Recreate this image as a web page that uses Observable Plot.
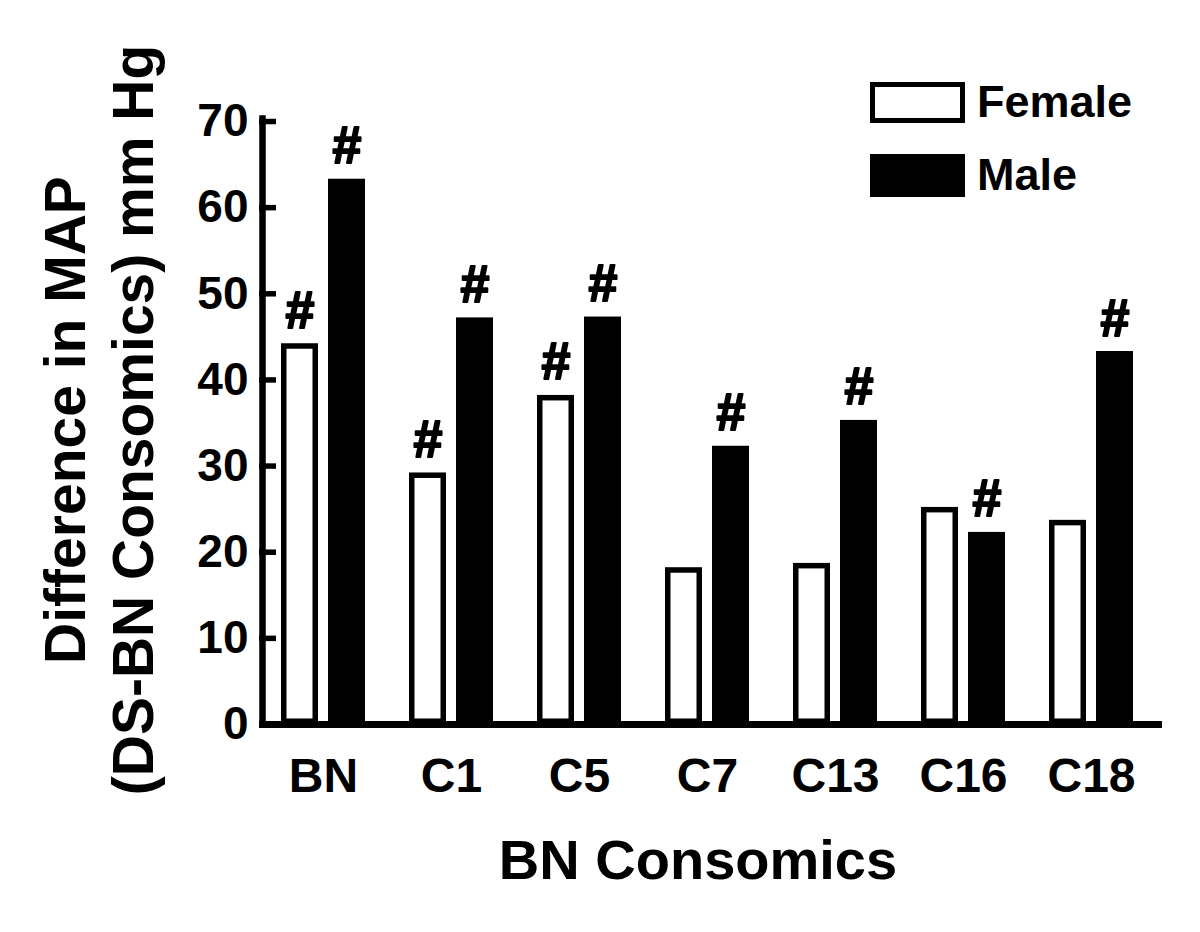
<!DOCTYPE html>
<html>
<head>
<meta charset="utf-8">
<script src="https://cdn.jsdelivr.net/npm/d3@7"></script>
<script src="https://cdn.jsdelivr.net/npm/@observablehq/plot@0.6"></script>
<style>
  html, body { margin: 0; padding: 0; background: #fff; }
  #chart { position: relative; width: 1200px; height: 932px; }
  svg text { font-family: "Liberation Sans", Arial, Helvetica, sans-serif; font-weight: bold; }
</style>
</head>
<body>
<div id="chart"></div>
<script>
// ---- data ----
const groups = ["BN", "C1", "C5", "C7", "C13", "C16", "C18"];
const sexes = ["Female", "Male"];
const femaleValues = [44.2, 29.2, 38.2, 18.2, 18.7, 25.2, 23.7];
const maleValues = [63.3, 47.2, 47.3, 32.3, 35.3, 22.3, 43.3];
const femaleSignificant = [true, true, true, false, false, false, false];
const maleSignificant = [true, true, true, true, true, true, true];
const yTicks = [0, 10, 20, 30, 40, 50, 60, 70];
const yTitleLines = ["Difference in MAP", "(DS-BN Consomics) mm Hg"];
const xTitle = "BN Consomics";
const marker = "#";

// table built from the arrays
const rows = [];
groups.forEach((g, i) => {
  rows.push({group: g, sex: "Female", value: femaleValues[i], sig: femaleSignificant[i]});
  rows.push({group: g, sex: "Male", value: maleValues[i], sig: maleSignificant[i]});
});
const femaleRows = rows.filter(d => d.sex === "Female");
const maleRows = rows.filter(d => d.sex === "Male");
const sigRows = rows.filter(d => d.sig);

const FONT = '"Liberation Sans", Arial, Helvetica, sans-serif';

const plot = Plot.plot({
  width: 1200,
  height: 932,
  marginTop: 121,
  marginBottom: 208,
  marginLeft: 256,
  marginRight: 43,
  style: {background: "#fff", color: "#000", fontFamily: FONT},
  fx: {domain: groups, padding: 0, label: null},
  x: {domain: sexes, paddingInner: 0.208, paddingOuter: 0.446, axis: null},
  y: {domain: [0, 70], label: null},
  marks: [
    Plot.barY(femaleRows, {
      fx: "group", x: "sex", y: "value",
      fill: "#fff", stroke: "#000", strokeWidth: 5.5, inset: 2.75
    }),
    Plot.barY(maleRows, {
      fx: "group", x: "sex", y: "value", fill: "#000"
    }),
    Plot.text(sigRows, {
      fx: "group", x: "sex", y: "value", text: () => marker,
      lineAnchor: "bottom", dy: -16, fontSize: 52, fontWeight: "bold",
      fill: "#000", stroke: "#000", strokeWidth: 2
    }),
    // axis lines
    Plot.frame({anchor: "left", facetAnchor: "left", stroke: "#000", strokeWidth: 6.5, insetLeft: 3, insetTop: -3}),
    Plot.ruleY([0], {stroke: "#000", strokeWidth: 7}),
    Plot.ruleY([0], {facetAnchor: "right", stroke: "#000", strokeWidth: 7, insetRight: -7}),
    // y axis ticks (pointing inward) and labels
    Plot.axisY({anchor: "left", ticks: yTicks, text: null, tickSize: -17, strokeWidth: 5.5, label: null}),
    Plot.axisY({anchor: "left", ticks: yTicks, tickSize: 0, tickPadding: 11, fontSize: 46, fontWeight: "bold", label: null}),
    // category labels
    Plot.axisFx({anchor: "bottom", tickSize: 0, tickPadding: 33, fontSize: 48, fontWeight: "bold", label: null})
  ]
});

document.getElementById("chart").appendChild(plot);

// ---- titles and legend ----
const svg = d3.select(plot);
const yTitleBaselines = [85, 153];
yTitleLines.forEach((t, i) => {
  svg.append("text")
    .attr("transform", `translate(${yTitleBaselines[i]},420) rotate(-90)`)
    .attr("text-anchor", "middle")
    .attr("font-size", 57)
    .attr("font-family", FONT)
    .attr("font-weight", "bold")
    .attr("fill", "#000")
    .text(t);
});
svg.append("text")
  .attr("x", 698).attr("y", 879)
  .attr("text-anchor", "middle")
  .attr("font-size", 56)
  .attr("font-family", FONT)
  .attr("font-weight", "bold")
  .attr("fill", "#000")
  .text(xTitle);

const legend = svg.append("g").attr("text-anchor", "start");
legend.append("rect").attr("x", 872.5).attr("y", 84.5).attr("width", 90).attr("height", 36)
  .attr("fill", "#fff").attr("stroke", "#000").attr("stroke-width", 5);
legend.append("rect").attr("x", 870).attr("y", 154).attr("width", 95).attr("height", 43)
  .attr("fill", "#000");
legend.append("text").attr("x", 977).attr("y", 117).attr("font-size", 45).attr("text-anchor", "start")
  .attr("font-family", FONT).attr("font-weight", "bold").attr("fill", "#000").text(sexes[0]);
legend.append("text").attr("x", 977).attr("y", 190).attr("font-size", 45).attr("text-anchor", "start")
  .attr("font-family", FONT).attr("font-weight", "bold").attr("fill", "#000").text(sexes[1]);
</script>
</body>
</html>
